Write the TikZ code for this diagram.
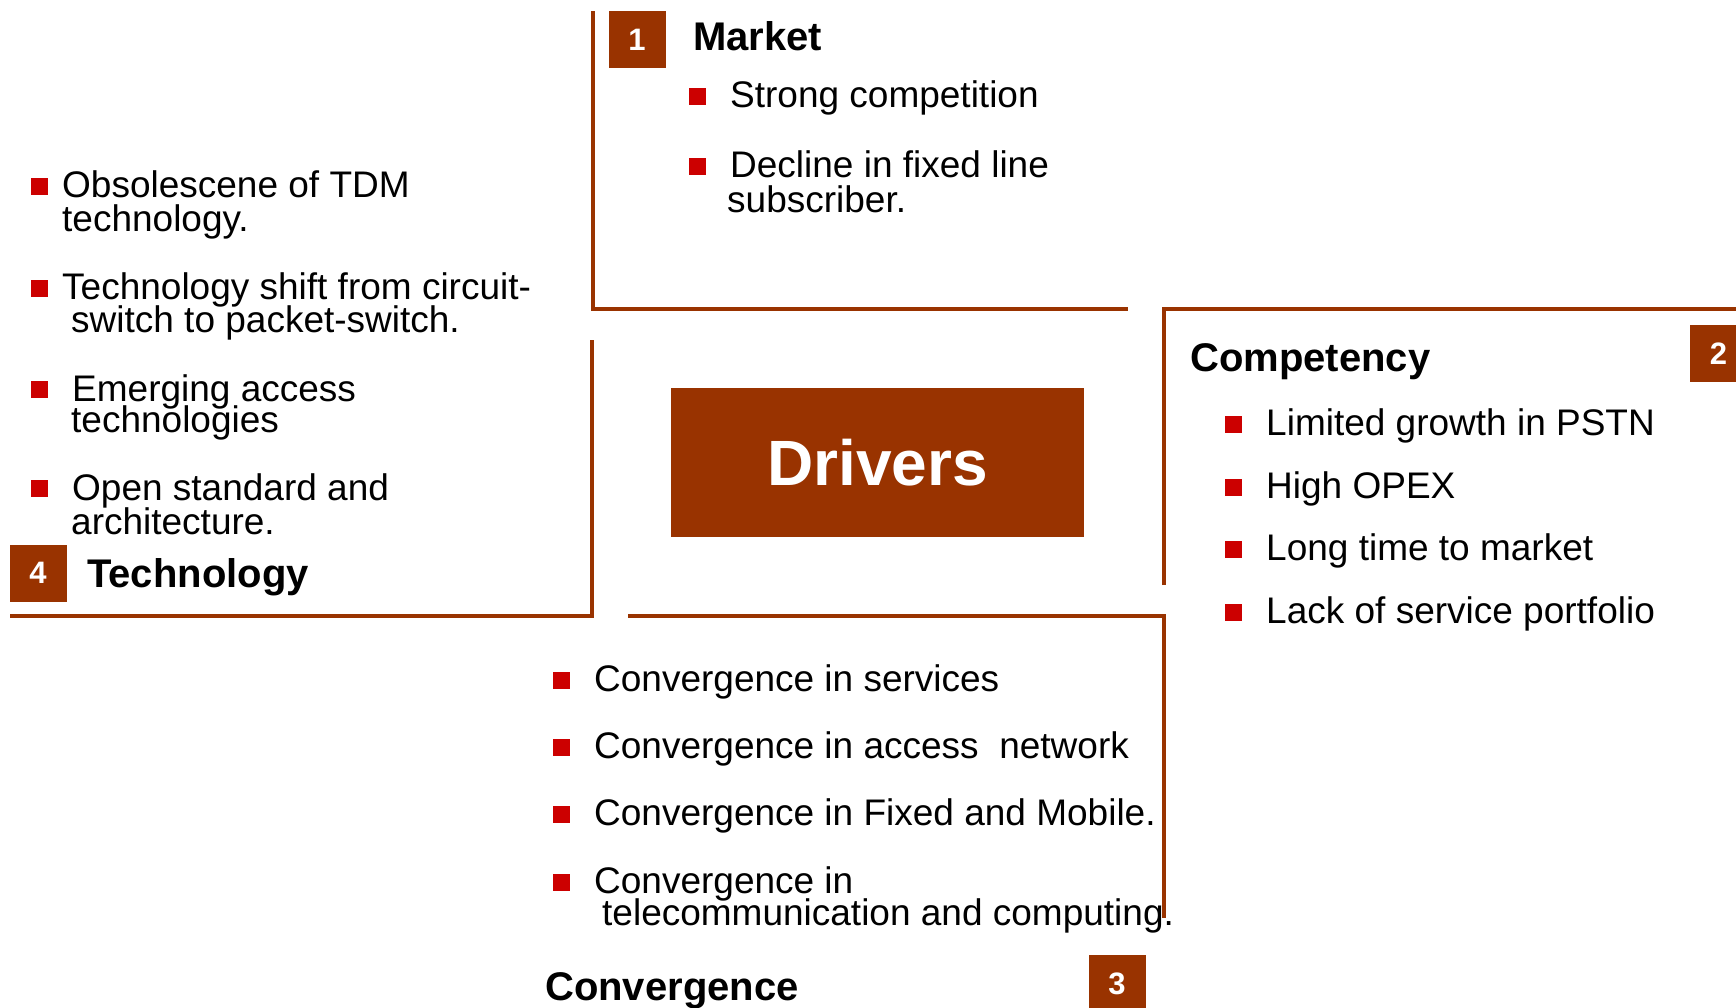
\documentclass[tikz,border=0pt]{standalone}
\usepackage{fontspec}
\setmainfont{Liberation Sans}
\definecolor{brn}{HTML}{993300}
\definecolor{bulred}{HTML}{CC0000}
\begin{document}
\begin{tikzpicture}[x=1pt,y=-1pt,
  rule/.style={draw=brn,line width=3.5pt},
  numbox/.style={fill=brn,minimum size=57pt,inner sep=0pt,text=white,font=\fontsize{31}{31}\selectfont\bfseries},
  bulletsq/.style={fill=bulred,minimum size=17pt,inner sep=0pt},
  txt/.style={anchor=base west,inner sep=0pt,font=\fontsize{37}{37}\selectfont},
  head/.style={anchor=base west,inner sep=0pt,font=\fontsize{40}{40}\selectfont\bfseries},
]
\useasboundingbox (0,0) rectangle (1736,1007);
\clip (0,0) rectangle (1736,1007);
\fill[white] (0,0) rectangle (1736,1007);

% frames
\draw[rule] (593,11) -- (593,309) -- (1128,309);
\draw[rule] (1164,585) -- (1164,309) -- (1740,309);
\draw[rule] (628,616) -- (1164,616) -- (1164,918);
\draw[rule] (10,616) -- (592,616) -- (592,340);

% centre
\node[fill=brn,minimum width=413pt,minimum height=149pt,inner sep=0pt,text=white,
      font=\fontsize{64}{64}\selectfont\bfseries] (drv) at (877.5,462.5) {Drivers};

% 1 Market
\node[numbox] (n1) at (637,39.5) {1};
\node[head] (h1) at (693,50) {Market};
\node[bulletsq] (b11) at (697,96) {};
\node[txt] (t11) at (730,107) {Strong competition};
\node[bulletsq] (b12) at (697,166) {};
\node[txt] (t12) at (730,177) {Decline in fixed line};
\node[txt] (t12b) at (727,212) {subscriber.};

% 2 Competency
\node[numbox] (n2) at (1718.5,353.5) {2};
\node[head] (h2) at (1190,371) {Competency};
\node[bulletsq] (b21) at (1233,424) {};
\node[txt] (t21) at (1266,435) {Limited growth in PSTN};
\node[bulletsq] (b22) at (1233,487) {};
\node[txt] (t22) at (1266,498) {High OPEX};
\node[bulletsq] (b23) at (1233,549) {};
\node[txt] (t23) at (1266,560) {Long time to market};
\node[bulletsq] (b24) at (1233,612) {};
\node[txt] (t24) at (1266,623) {Lack of service portfolio};

% 3 Convergence
\node[numbox] (n3) at (1117,983.5) {3};
\node[head] (h3) at (545,1000) {Convergence};
\node[bulletsq] (b31) at (561,680) {};
\node[txt] (t31) at (594,691) {Convergence in services};
\node[bulletsq] (b32) at (561,747) {};
\node[txt] (t32) at (594,758) {Convergence in access~ network};
\node[bulletsq] (b33) at (561,814) {};
\node[txt] (t33) at (594,825) {Convergence in Fixed and Mobile.};
\node[bulletsq] (b34) at (561,882) {};
\node[txt] (t34) at (594,893) {Convergence in};
\node[txt] (t34b) at (602,925) {telecommunication and computing.};

% 4 Technology
\node[numbox] (n4) at (38,573) {4};
\node[head] (h4) at (87,587) {Technology};
\node[bulletsq] (b41) at (39,186) {};
\node[txt] (t41) at (62,197) {Obsolescene of TDM};
\node[txt] (t41b) at (62,231) {technology.};
\node[bulletsq] (b42) at (39,288) {};
\node[txt] (t42) at (62,299) {Technology shift from circuit-};
\node[txt] (t42b) at (71,332) {switch to packet-switch.};
\node[bulletsq] (b43) at (39,389) {};
\node[txt] (t43) at (72,401) {Emerging access};
\node[txt] (t43b) at (71,432) {technologies};
\node[bulletsq] (b44) at (39,488) {};
\node[txt] (t44) at (72,500) {Open standard and};
\node[txt] (t44b) at (71,534) {architecture.};
\end{tikzpicture}
\end{document}
